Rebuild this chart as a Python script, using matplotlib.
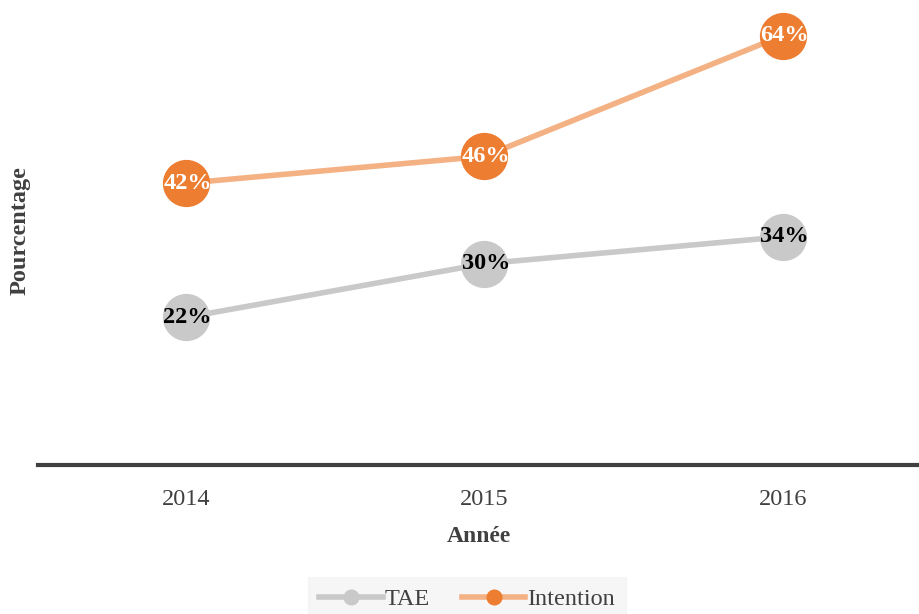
import matplotlib.pyplot as plt

# data
years = ["2014", "2015", "2016"]
tae = [22, 30, 34]
intention = [42, 46, 64]

plt.rcParams['font.family'] = ['Liberation Serif', 'DejaVu Serif']

fig = plt.figure(figsize=(9.2, 6.14), dpi=100)
ax = fig.add_axes([0.0413, 0.2427, 0.9587, 0.7573])

x = list(range(len(years)))
ax.plot(x, tae, color="#C9C9C9", lw=4, marker="o", ms=33,
        markerfacecolor="#C9C9C9", markeredgecolor="#C9C9C9", label="TAE", zorder=2)
ax.plot(x, intention, color="#F4B183", lw=4, marker="o", ms=33,
        markerfacecolor="#ED7D31", markeredgecolor="#ED7D31", label="Intention", zorder=2)

for i in x:
    ax.text(i + 0.005, tae[i], f"{tae[i]}%", ha="center", va="center", fontsize=17.5,
            fontweight="bold", color="black", zorder=3)
    ax.text(i + 0.005, intention[i], f"{intention[i]}%", ha="center", va="center", fontsize=17.5,
            fontweight="bold", color="white", zorder=3)

ax.set_xlim(-0.496, 2.46)
ax.set_ylim(0, 69.3)
ax.set_xticks(x)
ax.set_xticklabels(years, fontsize=17.5, color="#404040")
ax.tick_params(axis="x", length=0, pad=17)
ax.set_yticks([])
for s in ["top", "right", "left"]:
    ax.spines[s].set_visible(False)
ax.spines["bottom"].set_color("#404040")
ax.spines["bottom"].set_linewidth(3)

ax.set_xlabel("Année", fontsize=17, fontweight="bold", color="#404040", labelpad=12)
fig.text(0.022, 0.625, "Pourcentage", rotation=90, ha="center", va="center",
         fontsize=17.5, fontweight="bold", color="#404040")

leg = fig.legend(loc="lower center", bbox_to_anchor=(0.508, -0.012), ncol=2, frameon=True,
                 fontsize=17.5, handlelength=2.6, handletextpad=0.1, columnspacing=1.3,
                 markerscale=0.32, borderpad=0.45, borderaxespad=0)
leg.get_frame().set_facecolor("#F4F4F4")
leg.get_frame().set_edgecolor("#F4F4F4")
leg.get_frame().set_boxstyle("square", pad=0)
for t in leg.get_texts():
    t.set_color("#404040")

fig.savefig("out.png", dpi=100)
